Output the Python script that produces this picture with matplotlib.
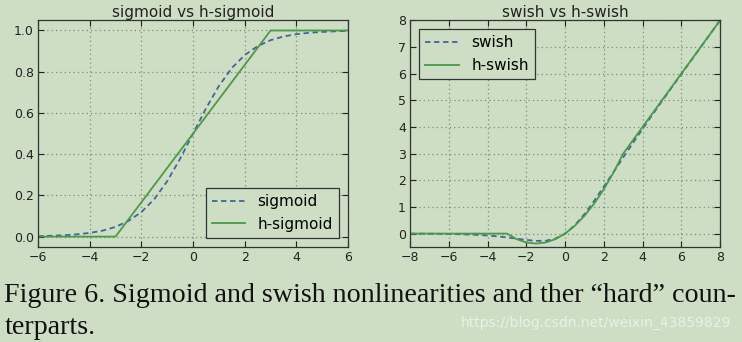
import matplotlib
matplotlib.use('Agg')
import matplotlib.pyplot as plt

BG = '#cddec4'
BLUE = '#44639e'
GREEN = '#4a9a4a'
GRID = '#7f8c7a'

# sigmoid vs h-sigmoid
sig_x = [-6, -5.5, -5, -4.5, -4, -3.5, -3, -2.5, -2, -1.5, -1, -0.5, 0,
         0.5, 1, 1.5, 2, 2.5, 3, 3.5, 4, 4.5, 5, 5.5, 6]
sig_y = [0.0025, 0.0041, 0.0067, 0.011, 0.018, 0.029, 0.047, 0.076, 0.119,
         0.182, 0.269, 0.378, 0.5, 0.622, 0.731, 0.818, 0.881, 0.924, 0.953,
         0.971, 0.982, 0.989, 0.993, 0.996, 0.998]
hsig_x = [-6, -3, 3, 6]
hsig_y = [0.0, 0.0, 1.0, 1.0]

# swish vs h-swish
sw_x = [-8, -7.5, -7, -6.5, -6, -5.5, -5, -4.5, -4, -3.5, -3, -2.5, -2,
        -1.5, -1, -0.5, 0, 0.5, 1, 1.5, 2, 2.5, 3, 3.5, 4, 4.5, 5, 5.5, 6,
        6.5, 7, 7.5, 8]
sw_y = [-0.003, -0.004, -0.006, -0.010, -0.015, -0.022, -0.034, -0.049,
        -0.072, -0.103, -0.142, -0.190, -0.238, -0.274, -0.269, -0.189, 0.0,
        0.311, 0.731, 1.226, 1.762, 2.310, 2.858, 3.398, 3.928, 4.451, 4.967,
        5.478, 5.985, 6.490, 6.994, 7.496, 7.997]
hsw_x = [-8, -3, -2.5, -2, -1.5, -1, -0.5, 0, 0.5, 1, 1.5, 2, 2.5, 3, 8]
hsw_y = [0.0, 0.0, -0.208, -0.333, -0.375, -0.333, -0.208, 0.0, 0.292,
         0.667, 1.125, 1.667, 2.292, 3.0, 8.0]

CAPTION_1 = 'Figure 6. Sigmoid and swish nonlinearities and ther \u201chard\u201d coun-'
CAPTION_2 = 'terparts.'
WATERMARK = 'https://blog.csdn.net/weixin_43859829'


def style_axes(ax):
    ax.set_facecolor(BG)
    ax.grid(True, linestyle=(0, (1, 2.5)), color=GRID, linewidth=0.9)
    ax.tick_params(direction='in', top=True, right=True, length=4,
                   labelsize=9, colors='#222222', pad=3)
    for sp in ax.spines.values():
        sp.set_color('#333333')
        sp.set_linewidth(0.9)


fig = plt.figure(figsize=(7.42, 3.42), dpi=100, facecolor=BG)
ax1 = fig.add_axes([0.0512, 0.278, 0.418, 0.663])
ax2 = fig.add_axes([0.5526, 0.278, 0.418, 0.663])

dash = (0, (3, 2))
ax1.plot(sig_x, sig_y, linestyle=dash, color=BLUE, lw=1.3, label='sigmoid')
ax1.plot(hsig_x, hsig_y, '-', color=GREEN, lw=1.3, label='h-sigmoid')
ax1.set_xlim(-6, 6)
ax1.set_ylim(-0.05, 1.05)
ax1.set_xticks(range(-6, 7, 2))
ax1.set_yticks([0.0, 0.2, 0.4, 0.6, 0.8, 1.0])
ax1.set_title('sigmoid vs h-sigmoid', fontsize=11, pad=2, color='#222222')
style_axes(ax1)
leg1 = ax1.legend(loc='lower right', fontsize=11, fancybox=False,
                  facecolor=BG, edgecolor='#333333', framealpha=1,
                  handlelength=2.2, borderaxespad=0.6)

ax2.plot(sw_x, sw_y, linestyle=dash, color=BLUE, lw=1.3, label='swish')
ax2.plot(hsw_x, hsw_y, '-', color=GREEN, lw=1.3, label='h-swish')
ax2.set_xlim(-8, 8)
ax2.set_ylim(-0.5, 8)
ax2.set_xticks(range(-8, 9, 2))
ax2.set_yticks(range(0, 9))
ax2.set_title('swish vs h-swish', fontsize=11, pad=2, color='#222222')
style_axes(ax2)
leg2 = ax2.legend(loc='upper left', fontsize=11, fancybox=False,
                  facecolor=BG, edgecolor='#333333', framealpha=1,
                  handlelength=2.2, borderaxespad=0.6)
for leg in (leg1, leg2):
    leg.get_frame().set_linewidth(0.9)

fig.text(0.006, 0.118, CAPTION_1, family='Liberation Serif', fontsize=20.2,
         color='#111111', va='baseline')
fig.text(0.006, 0.022, CAPTION_2, family='Liberation Serif', fontsize=20.2,
         color='#111111', va='baseline')
fig.text(0.985, 0.044, WATERMARK, family='Liberation Sans Narrow',
         fontsize=10, color='#eaf0e6', ha='right', va='baseline')

fig.savefig('out.png', dpi=100, facecolor=BG)
